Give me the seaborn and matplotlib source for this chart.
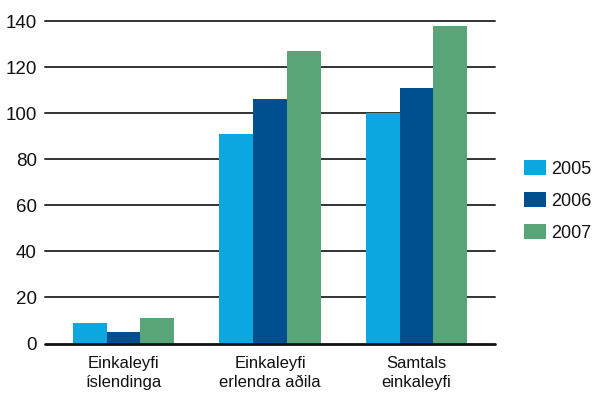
import matplotlib
matplotlib.use("Agg")
import matplotlib.pyplot as plt
import seaborn as sns
import pandas as pd

# gögn lesin af myndinni
flokkar = ["Einkaleyfi\níslendinga", "Einkaleyfi\nerlendra aðila", "Samtals\neinkaleyfi"]
ar = ["2005", "2006", "2007"]
gildi_2005 = [9, 91, 100]
gildi_2006 = [5, 106, 111]
gildi_2007 = [11, 127, 138]
litir = ["#0ba7e0", "#004f91", "#58a57a"]

df = pd.DataFrame({
    "flokkur": flokkar * 3,
    "ar": [ar[0]] * 3 + [ar[1]] * 3 + [ar[2]] * 3,
    "gildi": gildi_2005 + gildi_2006 + gildi_2007,
})

sns.set_style("white")
plt.rcParams["font.family"] = ["Liberation Sans", "DejaVu Sans"]

fig = plt.figure(figsize=(5.96, 4.03), dpi=100)
ax = fig.add_axes([45 / 596, (403 - 343.5) / 403, 450 / 596, 322.5 / 403])

sns.barplot(data=df, x="flokkur", y="gildi", hue="ar", palette=litir,
            width=0.69, saturation=1, edgecolor="none", linewidth=0,
            ax=ax, zorder=3)

ax.set_xlim(-0.536, 2.536)
ax.set_ylim(0, 140)
ax.set_yticks(range(0, 141, 20))
for y in range(20, 141, 20):
    ax.axhline(y, color="#333333", lw=1.4, zorder=1, clip_on=False)
ax.axhline(0, color="#111111", lw=2, zorder=4, clip_on=False)

for s in ax.spines.values():
    s.set_visible(False)
ax.tick_params(axis="y", length=0, pad=6, labelsize=13.5, labelcolor="#111111")
ax.tick_params(axis="x", length=0, pad=9, labelsize=12, labelcolor="#111111")
for t in ax.get_xticklabels():
    t.set_linespacing(1.35)
ax.set_xlabel("")
ax.set_ylabel("")

ax.get_legend().remove()
handles, labels = ax.get_legend_handles_labels()
leg = fig.legend(handles, labels, loc="center left", bbox_to_anchor=(515 / 596, 1 - 201 / 403),
                 frameon=False, fontsize=13, handlelength=1.2, handleheight=0.85,
                 handletextpad=0.3, labelspacing=0.8, borderpad=0)
for t in leg.get_texts():
    t.set_color("#111111")

fig.savefig("out.png", dpi=100)
